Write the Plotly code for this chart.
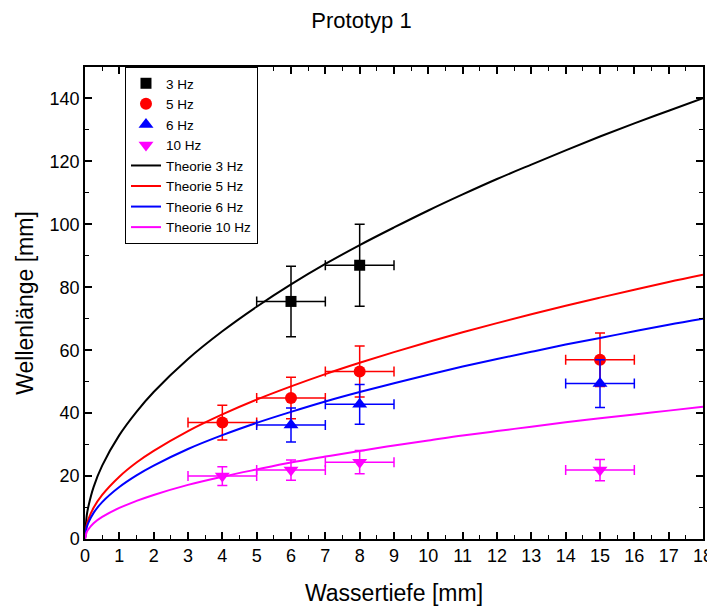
import plotly.graph_objects as go

# measured data
x3 = [6, 8]
y3 = [75.5, 87.0]
ey3 = [11.2, 13.0]
ex3 = [1, 1]

x5 = [4, 6, 8, 15]
y5 = [37.0, 44.8, 53.2, 57.0]
ey5 = [5.5, 6.6, 8.1, 8.5]
ex5 = [1, 1, 1, 1]

x6 = [6, 8, 15]
y6 = [36.2, 42.8, 49.4]
ey6 = [5.4, 6.3, 7.6]
ex6 = [1, 1, 1]

x10 = [4, 6, 8, 15]
y10 = [20.0, 21.9, 24.4, 21.9]
ey10 = [3.0, 3.2, 3.7, 3.4]
ex10 = [1, 1, 1, 1]

# theory curves
xt = [0, 0.05, 0.1, 0.25, 0.5, 1, 1.5, 2, 3, 4, 5, 6, 7, 8, 9, 10, 11, 12, 13, 14, 15, 16, 17, 18]
t3 = [0, 7.4, 10.4, 16.5, 23.3, 33.0, 40.4, 46.7, 57.2, 66.0, 73.8, 80.9, 87.4, 93.4, 99.0, 104.4, 109.5, 114.4, 119.0, 123.5, 127.9, 132.1, 136.1, 140.1]
t5 = [0, 4.4, 6.3, 9.9, 14.0, 19.8, 24.3, 28.0, 34.3, 39.6, 44.3, 48.5, 52.4, 56.0, 59.4, 62.6, 65.7, 68.6, 71.4, 74.1, 76.7, 79.2, 81.7, 84.0]
t6 = [0, 3.7, 5.2, 8.3, 11.7, 16.5, 20.2, 23.3, 28.6, 33.0, 36.9, 40.4, 43.7, 46.7, 49.5, 52.2, 54.8, 57.2, 59.5, 61.8, 63.9, 66.0, 68.1, 70.0]
t10 = [0, 2.2, 3.1, 5.0, 7.0, 9.9, 12.1, 14.0, 17.2, 19.8, 22.1, 24.3, 26.2, 28.0, 29.7, 31.3, 32.9, 34.3, 35.7, 37.1, 38.4, 39.6, 40.8, 42.0]

fig = go.Figure()

def pts(x, y, ex, ey, name, color, symbol, size):
    fig.add_trace(go.Scatter(
        x=x, y=y, mode="markers", name=name,
        marker=dict(color=color, symbol=symbol, size=size, line=dict(width=0)),
        error_x=dict(type="data", array=ex, color=color, thickness=1.5, width=5),
        error_y=dict(type="data", array=ey, color=color, thickness=1.5, width=5),
    ))

pts(x3, y3, ex3, ey3, "3 Hz", "black", "square", 11)
pts(x5, y5, ex5, ey5, "5 Hz", "red", "circle", 12)
pts(x6, y6, ex6, ey6, "6 Hz", "blue", "triangle-up", 13)
pts(x10, y10, ex10, ey10, "10 Hz", "magenta", "triangle-down", 13)

for t, name, color in [(t3, "Theorie 3 Hz", "black"), (t5, "Theorie 5 Hz", "red"),
                       (t6, "Theorie 6 Hz", "blue"), (t10, "Theorie 10 Hz", "magenta")]:
    fig.add_trace(go.Scatter(x=xt, y=t, mode="lines", name=name,
                             line=dict(color=color, width=2, shape="spline")))

axis_common = dict(showgrid=False, zeroline=False, showline=True, linecolor="black",
                   linewidth=1.5, mirror="allticks", ticks="inside", ticklen=7,
                   tickwidth=1.5, tickcolor="black", automargin=False,
                   tickfont=dict(size=18, color="black"))

fig.update_xaxes(range=[0, 18], dtick=1, tick0=0,
                 title=dict(text="Wassertiefe [mm]", font=dict(size=23, color="black"), standoff=20),
                 minor=dict(dtick=0.5, ticks="inside", ticklen=4, tickcolor="black", tickwidth=1.2),
                 **axis_common)
fig.update_yaxes(range=[0, 150], dtick=20, tick0=0,
                 title=dict(text="Wellenlänge [mm]", font=dict(size=23, color="black"), standoff=10),
                 minor=dict(dtick=10, ticks="inside", ticklen=4, tickcolor="black", tickwidth=1.2),
                 **axis_common)

fig.update_layout(
    width=707, height=600,
    margin=dict(l=77, r=12, t=59, b=69, autoexpand=False),
    paper_bgcolor="white", plot_bgcolor="white",
    font=dict(family="Liberation Sans, Arial, sans-serif", color="black"),
    title=dict(text="Prototyp 1", x=0.5, xanchor="center", y=0.98, yanchor="middle",
               font=dict(size=22, color="black")),
    legend=dict(x=0.0647, y=1, xanchor="left", yanchor="top",
                bordercolor="black", borderwidth=1, bgcolor="white",
                font=dict(size=13.5, color="black"), tracegroupgap=0,
                itemwidth=30),
    showlegend=True,
)

fig.write_html("out.html")
